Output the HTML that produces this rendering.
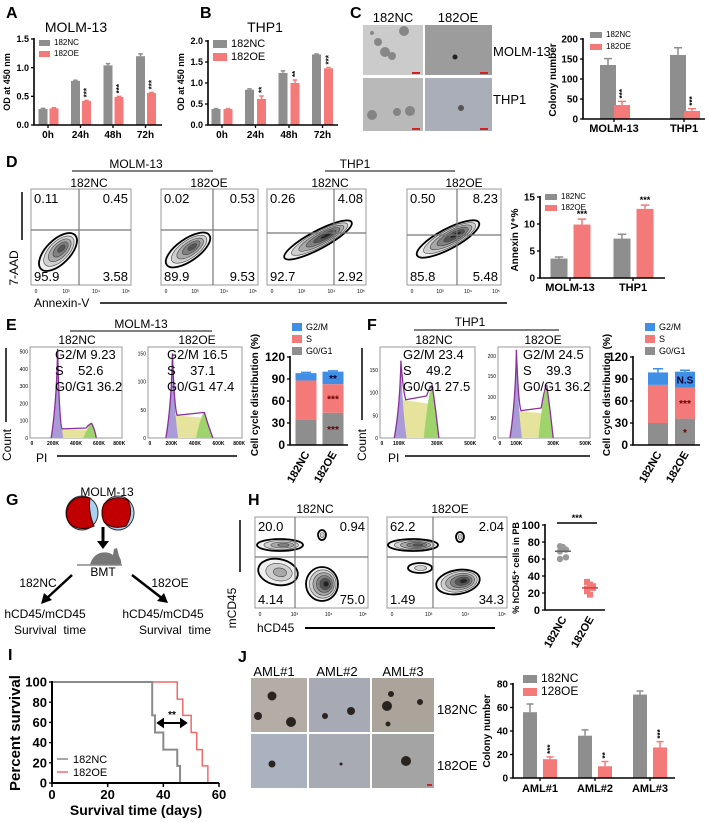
<!DOCTYPE html>
<html><head><meta charset="utf-8">
<style>
html,body{margin:0;padding:0;background:#fff;}
svg{display:block;font-family:"Liberation Sans",Arial,sans-serif;}
.b{font-weight:bold;}
.pre{white-space:pre;}
</style></head>
<body>
<svg id="fig" width="709" height="822" viewBox="0 0 709 822" xmlns="http://www.w3.org/2000/svg">
<g font-weight="bold" font-size="16">
<text x="6" y="18">A</text>
<text x="200" y="18">B</text>
<text x="350" y="18">C</text>
<text x="6" y="167">D</text>
<text x="6" y="330">E</text>
<text x="367" y="330">F</text>
<text x="6" y="505">G</text>
<text x="248" y="505">H</text>
<text x="8" y="660">I</text>
<text x="238" y="662">J</text>
</g>
<text x="76" y="32" font-size="14" text-anchor="middle">MOLM-13</text>
<text x="265" y="32" font-size="14" text-anchor="middle">THP1</text>
<text x="10" y="82" font-size="9" font-weight="bold" text-anchor="middle" transform="rotate(-90 10 82)">OD at 450 nm</text>
<text x="184" y="82" font-size="9" font-weight="bold" text-anchor="middle" transform="rotate(-90 184 82)">OD at 450 nm</text>

<g>
<text x="393" y="22" font-size="13" text-anchor="middle">182NC</text>
<text x="458" y="22" font-size="13" text-anchor="middle">182OE</text>
<rect x="363" y="25" width="60" height="50" fill="#cbcbcb"/>
<rect x="425" y="25" width="67" height="50" fill="#9c9c9c"/>
<rect x="363" y="78" width="60" height="53" fill="#b9b9b9"/>
<rect x="425" y="78" width="67" height="53" fill="#a9aeb8"/>
<g fill="#777" opacity="0.8">
<circle cx="378" cy="42" r="4"/><circle cx="385" cy="52" r="5"/><circle cx="392" cy="56" r="4"/><circle cx="404" cy="31" r="5"/><circle cx="372" cy="33" r="2"/>
<circle cx="372" cy="115" r="5"/><circle cx="397" cy="112" r="4"/><circle cx="410" cy="111" r="5"/>
</g>
<circle cx="455" cy="57" r="2.5" fill="#222"/><circle cx="461" cy="108" r="3" fill="#555"/>
<g fill="#d42020"><rect x="412" y="72" width="8" height="2"/><rect x="480" y="72" width="8" height="2"/><rect x="412" y="128" width="8" height="2"/><rect x="480" y="128" width="8" height="2"/></g>
<text x="493" y="56" font-size="13">MOLM-13</text>
<text x="493" y="104" font-size="13">THP1</text>
<text x="556" y="80" font-size="10" font-weight="bold" text-anchor="middle" transform="rotate(-90 556 80)">Colony number</text>
</g>

<g font-size="12" text-anchor="middle">
<text x="136" y="168">MOLM-13</text><line x1="72" y1="171" x2="213" y2="171" stroke="#000"/>
<text x="355" y="168">THP1</text><line x1="325" y1="171" x2="455" y2="171" stroke="#000"/>
<text x="89" y="187">182NC</text><text x="209" y="187">182OE</text><text x="330" y="187">182NC</text><text x="464" y="187">182OE</text>
</g>
<line x1="22" y1="192" x2="22" y2="240" stroke="#000" stroke-width="1.5"/>
<text x="18" y="268" font-size="12" text-anchor="middle" transform="rotate(-90 18 268)">7-AAD</text>
<text x="34" y="307" font-size="12">Annexin-V</text>
<line x1="100" y1="303" x2="507" y2="303" stroke="#000" stroke-width="1.5"/>
<text x="518" y="240" font-size="10" font-weight="bold" text-anchor="middle" transform="rotate(-90 518 240)">Annexin V⁺%</text>

<g font-size="12" text-anchor="middle">
<text x="141" y="328">MOLM-13</text><line x1="70" y1="331" x2="212" y2="331" stroke="#000"/>
<text x="77" y="344">182NC</text><text x="197" y="344">182OE</text>
<text x="470" y="326">THP1</text><line x1="414" y1="330" x2="559" y2="330" stroke="#000"/>
<text x="434" y="344">182NC</text><text x="543" y="344">182OE</text>
</g>
<line x1="6" y1="348" x2="6" y2="422" stroke="#000" stroke-width="1.5"/>
<text x="11" y="445" font-size="12" text-anchor="middle" transform="rotate(-90 11 445)">Count</text>
<text x="36" y="462" font-size="12">PI</text>
<line x1="57" y1="456" x2="237" y2="456" stroke="#000" stroke-width="1.5"/>
<line x1="362" y1="348" x2="362" y2="420" stroke="#000" stroke-width="1.5"/>
<text x="366" y="445" font-size="12" text-anchor="middle" transform="rotate(-90 366 445)">Count</text>
<text x="388" y="462" font-size="12">PI</text>
<line x1="405" y1="456" x2="590" y2="456" stroke="#000" stroke-width="1.5"/>
<text x="258" y="395" font-size="10" font-weight="bold" text-anchor="middle" transform="rotate(-90 258 395)">Cell cycle distribution (%)</text>
<text x="610" y="395" font-size="10" font-weight="bold" text-anchor="middle" transform="rotate(-90 610 395)">Cell cycle distribution (%)</text>

<g>
<text x="107" y="496" font-size="12" text-anchor="middle">MOLM-13</text>
<ellipse cx="82" cy="513" rx="16" ry="17" fill="#a9d2f0" stroke="#333"/>
<path d="M68 506 Q75 494 90 498 Q88 512 94 526 Q80 532 70 524 Q64 515 68 506Z" fill="#c00000" stroke="#300"/>
<ellipse cx="118" cy="513" rx="16" ry="17" fill="#a9d2f0" stroke="#333"/>
<path d="M104 504 Q114 494 128 500 Q134 514 126 526 Q112 530 104 522 Q100 512 104 504Z" fill="#c00000" stroke="#300"/>
<line x1="103" y1="527" x2="103" y2="543" stroke="#000" stroke-width="3"/>
<path d="M97 541 L103 549 L109 541Z" fill="#000"/>
<path d="M77 565 L90 565 Q92 556 100 553 Q108 551 113 555 L114 549 L117 548 L119 556 Q122 561 121 565 L77 565Z" fill="#777"/>
<line x1="77" y1="565" x2="122" y2="565" stroke="#888" stroke-width="1.5"/>
<text x="103" y="576" font-size="12" text-anchor="middle">BMT</text>
<line x1="72" y1="575" x2="46" y2="599" stroke="#000" stroke-width="2.5"/>
<path d="M41 604 L44 593 L52 600Z" fill="#000"/>
<line x1="132" y1="575" x2="163" y2="599" stroke="#000" stroke-width="2.5"/>
<path d="M168 603 L157 601 L164 593Z" fill="#000"/>
<text x="38" y="587" font-size="12" text-anchor="middle">182NC</text>
<text x="170" y="587" font-size="12" text-anchor="middle">182OE</text>
<text x="45" y="618" font-size="12" text-anchor="middle">hCD45/mCD45</text>
<text x="163" y="618" font-size="12" text-anchor="middle">hCD45/mCD45</text>
<text x="50" y="634" font-size="12" text-anchor="middle" class="pre">Survival  time</text>
<text x="175" y="634" font-size="12" text-anchor="middle" class="pre">Survival  time</text>
</g>

<text x="315" y="513" font-size="12" text-anchor="middle">182NC</text>
<text x="450" y="513" font-size="12" text-anchor="middle">182OE</text>
<line x1="240" y1="520" x2="240" y2="572" stroke="#000" stroke-width="1.5"/>
<text x="236" y="608" font-size="12" text-anchor="middle" transform="rotate(-90 236 608)">mCD45</text>
<text x="257" y="632" font-size="12">hCD45</text>
<line x1="305" y1="628" x2="495" y2="628" stroke="#000" stroke-width="2"/>

<text x="20" y="733" font-size="15" font-weight="bold" text-anchor="middle" transform="rotate(-90 20 733)">Percent survival</text>
<text x="136" y="815" font-size="14" font-weight="bold" text-anchor="middle">Survival time (days)</text>

<g>
<text x="274" y="676" font-size="13" text-anchor="middle">AML#1</text>
<text x="337" y="676" font-size="13" text-anchor="middle">AML#2</text>
<text x="403" y="676" font-size="13" text-anchor="middle">AML#3</text>
<rect x="251" y="678" width="56" height="54" fill="#b3ada6"/>
<rect x="309" y="678" width="61" height="54" fill="#a7aab5"/>
<rect x="372" y="678" width="62" height="54" fill="#aaa49b"/>
<rect x="251" y="734" width="56" height="54" fill="#aab2c0"/>
<rect x="309" y="734" width="61" height="54" fill="#a8abb3"/>
<rect x="372" y="734" width="62" height="54" fill="#a4a4a4"/>
<g fill="#2a2420">
<circle cx="272" cy="696" r="4.5"/><circle cx="258" cy="716" r="4"/><circle cx="291" cy="722" r="5"/>
<circle cx="325" cy="716" r="3"/><circle cx="351" cy="711" r="4"/>
<circle cx="387" cy="706" r="5"/><circle cx="391" cy="694" r="3"/><circle cx="420" cy="702" r="3"/><circle cx="388" cy="724" r="2.5"/>
<circle cx="272" cy="764" r="3.5"/><circle cx="341" cy="764" r="1.5"/><circle cx="406" cy="761" r="5"/>
</g>
<rect x="427" y="784" width="5" height="2" fill="#d42020"/>
<text x="437" y="714" font-size="13">182NC</text>
<text x="437" y="770" font-size="13">182OE</text>
<text x="490" y="731" font-size="10" font-weight="bold" text-anchor="middle" transform="rotate(-90 490 731)">Colony number</text>
</g>

<g id="dyn"></g>
<text x="519" y="568" font-size="9" font-weight="bold" text-anchor="middle" transform="rotate(-90 519 568)">% hCD45⁺ cells in PB</text>
</svg>
<script>
const timeCats = ['0h','24h','48h','72h'];
const ncA = [0.28,0.77,1.04,1.20];
const ncAErr = [0.01,0.01,0.03,0.04];
const oeA = [0.29,0.42,0.49,0.56];
const oeAErr = [0.01,0.01,0.01,0.01];
const sigA = ['','***','***','***'];
const ticksA = [0,0.5,1.0,1.5];
const tickLabA = ['0.0','0.5','1.0','1.5'];

const ncB = [0.38,0.84,1.24,1.68];
const ncBErr = [0.01,0.02,0.05,0.01];
const oeB = [0.38,0.62,1.00,1.35];
const oeBErr = [0.01,0.07,0.07,0.02];
const sigB = ['','**','**','***'];
const ticksB = [0,0.5,1.0,1.5,2.0];
const tickLabB = ['0.0','0.5','1.0','1.5','2.0'];

const lineCats = ['MOLM-13','THP1'];
const ncC = [135,160];
const ncCErr = [16,18];
const oeC = [35,20];
const oeCErr = [9,6];
const sigC = ['***','***'];
const ticksC = [0,50,100,150,200];

const ncD = [3.6,7.3];
const ncDErr = [0.3,0.8];
const oeD = [9.9,12.8];
const oeDErr = [1.0,0.7];
const sigD = ['***','***'];
const ticksD = [0,5,10,15];

const groupCats = ['182NC','182OE'];
const g0E = [35,44];
const sE = [53,39];
const g2E = [10,17];
const errE = [1,1];
const sigE = [['',''],['***','***','**']];
const g0F = [30,36];
const sF = [52,42];
const g2F = [17,22];
const errF = [5,2];
const sigF = [['',''],['*','***','N.S']];
const ticksEF = [0,30,60,90,120];

const dQuads = [['0.11','0.45','95.9','3.58'],['0.02','0.53','89.9','9.53'],['0.26','4.08','92.7','2.92'],['0.50','8.23','85.8','5.48']];
const hQuads = [['20.0','0.94','4.14','75.0'],['62.2','2.04','1.49','34.3']];

const ncH = [75,73,71,69,74,62,60];
const oeH = [33,30,26,22,18,28,25];
const ticksH = [0,20,40,60,80,100];

const survDaysNC = [0,36,37,40,45,46];
const survNC = [100,67,50,33,17,0];
const survDaysOE = [0,45,47,50,52,54,56];
const survOE = [100,83,67,50,33,17,0];
const ticksIx = [0,20,40,60];
const ticksIy = [0,20,40,60,80,100];

const amlCats = ['AML#1','AML#2','AML#3'];
const ncJ = [56,36,71];
const ncJErr = [7,5,3];
const oeJ = [16,10,26];
const oeJErr = [2,4,5];
const sigJ = ['***','**','***'];
const ticksJ = [0,20,40,60,80];

const NS='http://www.w3.org/2000/svg';
const root=document.getElementById('dyn');
const GREY='#8e8e8e', RED='#f47a7a', BLUE='#3f8fe6';
function mk(tag, attrs, parent){const e=document.createElementNS(NS,tag);for(const k in attrs)e.setAttribute(k,attrs[k]);(parent||root).appendChild(e);return e;}
function tx(x,y,s,attrs,parent){const t=mk('text',Object.assign({x:x,y:y},attrs||{}),parent);t.textContent=s;return t;}

function yAxis(g,x,yS,ticks,labels,fs){
  ticks.forEach((t,i)=>{
    const l=mk('line',{x1:x-3,x2:x,y1:yS(t),y2:yS(t),stroke:'#000','stroke-width':1.3},g);
    
    
    const tl=tx(x-5,yS(t)+fs*0.35,labels[i],{'font-size':fs,'font-weight':'bold','text-anchor':'end'},g);
    
    
  });
}

function legend(g,x,y,dy,items,fs,sw,sh){
  items.forEach((it,i)=>{
    const r=mk('rect',{x:x,y:y+i*dy-sh+1,width:sw,height:sh,fill:it[1]},g);
    
    
    const t=tx(x+sw+4,y+i*dy,it[0],{'font-size':fs},g);
    
    
  });
}

function barChart(c){
  const g=mk('g',{});
  
  
  const yS=v=>c.yBot-(v/c.max)*(c.yBot-c.yTop);
  c.series.forEach((s,j)=>{
    s.vals.forEach((v,i)=>{
      const cx=c.cx0+i*c.step+c.offs[j];
      const r=mk('rect',{x:cx-c.barW/2,y:yS(v),width:c.barW,height:c.yBot-yS(v),fill:s.color},g);
      
      
      const top=yS(v+s.errs[i]);
      const e=mk('path',{d:`M${cx} ${yS(v)}V${top}M${cx-c.barW/4} ${top}H${cx+c.barW/4}`,stroke:s.color,'stroke-width':1.5,fill:'none'},g);
      
      
      if(s.sig && s.sig[i]){
        let st;
        if(c.starRot){ st=tx(cx+3,top-3,s.sig[i],{'font-size':c.starFs,'font-weight':'bold',transform:`rotate(-90 ${cx+3} ${top-3})`},g); }
        else { st=tx(cx,top-2,s.sig[i],{'font-size':c.starFs,'font-weight':'bold','text-anchor':'middle'},g); }
        
        
      }
    });
  });
  const ax=mk('path',{d:`M${c.x0} ${c.yTop-1}V${c.yBot}H${c.x1}`,stroke:'#000','stroke-width':1.6,fill:'none'},g);
  
  
  yAxis(g,c.x0,yS,c.ticks,c.tickLabels,c.tickFs);
  c.cats.forEach((cat,i)=>{
    const cx=c.cx0+i*c.step;
    const tk=mk('line',{x1:cx,x2:cx,y1:c.yBot,y2:c.yBot+3,stroke:'#000','stroke-width':1.3},g);
    
    
    const t=tx(cx,c.yBot+c.labDy,cat,{'font-size':c.labFs,'font-weight':'bold','text-anchor':'middle'},g);
    
    
  });
  legend(g,c.legX,c.legY,c.legDy,[['182NC',GREY],[c.oeName||'182OE',RED]],c.legFs,c.legW,c.legH);
  return g;
}

barChart({name:'panel-a-chart',x0:34,x1:162,yTop:39,yBot:125,max:1.5,ticks:ticksA,tickLabels:tickLabA,tickFs:9,
  cats:timeCats,cx0:48,step:32.5,offs:[-5,6],barW:9,labDy:13,labFs:10,starRot:true,starFs:8,
  series:[{key:'182nc',vals:ncA,errs:ncAErr,color:GREY},{key:'182oe',vals:oeA,errs:oeAErr,color:RED,sig:sigA}],
  legX:39,legY:45,legDy:11,legFs:8,legW:11,legH:6});
barChart({name:'panel-b-chart',x0:208,x1:338,yTop:41,yBot:125,max:2.0,ticks:ticksB,tickLabels:tickLabB,tickFs:9,
  cats:timeCats,cx0:222,step:33.5,offs:[-6,6],barW:9,labDy:13,labFs:10,starRot:true,starFs:8,
  series:[{key:'182nc',vals:ncB,errs:ncBErr,color:GREY},{key:'182oe',vals:oeB,errs:oeBErr,color:RED,sig:sigB}],
  legX:213,legY:47,legDy:13,legFs:11,legW:14,legH:8});
barChart({name:'panel-c-chart',x0:583,x1:705,yTop:39,yBot:119,max:200,ticks:ticksC,tickLabels:ticksC.map(String),tickFs:10,
  cats:lineCats,cx0:614,step:70,offs:[-6,8],barW:16,labDy:13,labFs:11,starRot:true,starFs:8,
  series:[{key:'182nc',vals:ncC,errs:ncCErr,color:GREY},{key:'182oe',vals:oeC,errs:oeCErr,color:RED,sig:sigC}],
  legX:590,legY:37,legDy:12,legFs:8,legW:12,legH:6});
barChart({name:'panel-d-chart',x0:540,x1:665,yTop:197,yBot:278,max:15,ticks:ticksD,tickLabels:ticksD.map(String),tickFs:10,
  cats:lineCats,cx0:570,step:63,offs:[-11,12],barW:17,labDy:13,labFs:11,starRot:false,starFs:9,
  series:[{key:'182nc',vals:ncD,errs:ncDErr,color:GREY},{key:'182oe',vals:oeD,errs:oeDErr,color:RED,sig:sigD}],
  legX:545,legY:199,legDy:11,legFs:8,legW:12,legH:6});
barChart({name:'panel-j-chart',x0:513,x1:675,yTop:684,yBot:778,max:80,ticks:ticksJ,tickLabels:ticksJ.map(String),tickFs:10,
  cats:amlCats,cx0:540,step:55,offs:[-10,10],barW:14,labDy:14,labFs:11,starRot:true,starFs:8,oeName:'128OE',
  series:[{key:'182nc',vals:ncJ,errs:ncJErr,color:GREY},{key:'182oe',vals:oeJ,errs:oeJErr,color:RED,sig:sigJ}],
  legX:523,legY:682,legDy:13,legFs:12,legW:14,legH:8});

function stacked(c){
  const g=mk('g',{});
  
  
  const yS=v=>c.yBot-(v/c.max)*(c.yBot-c.yTop);
  c.cats.forEach((cat,i)=>{
    let base=0;
    c.layers.forEach((L,k)=>{
      const v=L.vals[i];
      const r=mk('rect',{x:c.cx[i]-c.barW/2,y:yS(base+v),width:c.barW,height:yS(base)-yS(base+v),fill:L.color},g);
      
      
      const lab=c.sig[i][k];
      if(lab){
        const t=tx(c.cx[i],yS(base+v/2)+4,lab,{'font-size':10,'font-weight':'bold','text-anchor':'middle',fill:k==2?'#003':'#600'},g);
        
        
      }
      base+=v;
    });
    const top=yS(base+c.errs[i]);
    const e=mk('path',{d:`M${c.cx[i]} ${yS(base)}V${top}M${c.cx[i]-5} ${top}H${c.cx[i]+5}`,stroke:BLUE,'stroke-width':1.5,fill:'none'},g);
    
    
    const t=tx(c.cx[i]+4,c.yBot+9,cat,{'font-size':11,'font-weight':'bold','text-anchor':'end',transform:`rotate(-60 ${c.cx[i]+4} ${c.yBot+9})`},g);
    
    
  });
  const ax=mk('path',{d:`M${c.x0} ${c.yTop-1}V${c.yBot}H${c.x1}`,stroke:'#000','stroke-width':1.6,fill:'none'},g);
  
  
  yAxis(g,c.x0,yS,c.ticks,c.ticks.map(String),12);
  legend(g,c.legX,c.legY,12,[['G2/M',BLUE],['S',RED],['G0/G1',GREY]],9,10,8);
}
stacked({name:'panel-e-chart',x0:290,x1:348,yTop:357,yBot:445,max:120,ticks:ticksEF,cats:groupCats,cx:[306,333],barW:21,
  layers:[{key:'g0g1',vals:g0E,color:GREY},{key:'s',vals:sE,color:RED},{key:'g2m',vals:g2E,color:BLUE}],errs:errE,sig:sigE,legX:292,legY:330});
stacked({name:'panel-f-chart',x0:633,x1:700,yTop:357,yBot:445,max:120,ticks:ticksEF,cats:groupCats,cx:[658,685],barW:20,
  layers:[{key:'g0g1',vals:g0F,color:GREY},{key:'s',vals:sF,color:RED},{key:'g2m',vals:g2F,color:BLUE}],errs:errF,sig:sigF,legX:645,legY:330});

function blob(g,cx,cy,rx,ry,rot,n){
  const cols=['#f0f0f0','#cfcfcf','#a8a8a8','#808080','#555','#222'];
  for(let k=0;k<n;k++){
    const f=1-k/(n);
    const e=mk('ellipse',{cx:cx+(k*rx*0.05),cy:cy,rx:rx*f,ry:ry*f,fill:cols[k%cols.length],stroke:k==0?'#000':'#444','stroke-width':k==0?1.8:0.6,transform:`rotate(${rot} ${cx} ${cy})`},g);
    
    
  }
}
function flowBox(name,x0,y0,x1,y1,vx,hy,q,blobs){
  const g=mk('g',{});
  
  
  const r=mk('rect',{x:x0,y:y0,width:x1-x0,height:y1-y0,fill:'#fff',stroke:'#999','stroke-width':1},g);
  
  
  blobs.forEach(b=>blob(g,b[0],b[1],b[2],b[3],b[4],b[5]));
  const l=mk('path',{d:`M${vx} ${y0}V${y1}M${x0} ${hy}H${x1}`,stroke:'#777','stroke-width':1.2},g);
  
  
  const fs=13;
  [[x0+3,y0+14,'start',q[0]],[x1-3,y0+14,'end',q[1]],[x0+3,y1-4,'start',q[2]],[x1-3,y1-4,'end',q[3]]].forEach(a=>{
    const t=tx(a[0],a[1],a[3],{'font-size':fs,'text-anchor':a[2]},g);
    
    
  });
  ['0','10³','10⁴','10⁵'].forEach((s,i)=>{
    const t=tx(x0+5+i*(x1-x0-10)/3,y1+8,s,{'font-size':5,'text-anchor':'middle'},g);
    
    
  });
}
flowBox('d-flow-molm-nc',31,189,131,285,79,230,dQuads[0],[[58,252,24,12,-45,5]]);
flowBox('d-flow-molm-oe',161,189,258,285,213,230,dQuads[1],[[188,250,26,11,-35,5]]);
flowBox('d-flow-thp1-nc',267,189,366,285,334,233,dQuads[2],[[318,240,38,9,-28,6]]);
flowBox('d-flow-thp1-oe',407,189,501,285,457,235,dQuads[3],[[448,239,35,10,-28,6]]);
flowBox('h-flow-nc',255,517,368,608,295,557,hQuads[0],[[280,545,23,6,0,4],[278,572,20,13,10,3],[322,584,16,17,0,6],[322,535,4,5,0,2]]);
flowBox('h-flow-oe',387,517,507,608,433,557,hQuads[1],[[413,545,25,6,0,5],[458,582,22,12,-10,6],[460,537,4,5,0,2],[420,568,12,5,0,2]]);

function hist(name,x0,y0,x1,y1,g1x,g1h,sh,g2x,g2h,end,ylabs,xlabs){
  const g=mk('g',{});
  
  
  const w=x1-x0,h=y1-y0,X=f=>x0+f*w,Y=f=>y1-f*h;
  const fr=mk('rect',{x:x0,y:y0,width:w,height:h,fill:'#fff',stroke:'#999'},g);
  
  
  const s=mk('path',{d:`M${X(g1x)} ${Y(0)}L${X(g1x+0.02)} ${Y(sh)}L${X(g2x-0.04)} ${Y(sh*0.9)}L${X(g2x)} ${Y(0)}Z`,fill:'#e6e49c'},g);
  
  
  const p1=mk('path',{d:`M${X(g1x-0.07)} ${Y(0)}Q${X(g1x-0.01)} ${Y(g1h*0.4)} ${X(g1x)} ${Y(g1h)}Q${X(g1x+0.02)} ${Y(g1h*0.3)} ${X(g1x+0.06)} ${Y(0)}Z`,fill:'#a99ad8'},g);
  
  
  const p2=mk('path',{d:`M${X(g2x-0.09)} ${Y(0)}Q${X(g2x-0.03)} ${Y(g2h)} ${X(g2x)} ${Y(g2h)}Q${X(g2x+0.04)} ${Y(g2h*0.5)} ${X(end)} ${Y(0)}Z`,fill:'#9fd36c'},g);
  
  
  const o=mk('path',{d:`M${X(g1x-0.07)} ${Y(0)}Q${X(g1x-0.01)} ${Y(g1h*0.4)} ${X(g1x)} ${Y(g1h)}Q${X(g1x+0.02)} ${Y(sh*1.3)} ${X(g1x+0.05)} ${Y(sh)}L${X(g2x-0.06)} ${Y(sh*1.1)}Q${X(g2x-0.02)} ${Y(g2h)} ${X(g2x)} ${Y(g2h)}Q${X(g2x+0.04)} ${Y(g2h*0.5)} ${X(end)} ${Y(0)}`,fill:'none',stroke:'#8a2f9a','stroke-width':1.3},g);
  
  
  ylabs.forEach((l,i)=>{const t=tx(x0-2,Y(l[1])+2,l[0],{'font-size':5,'text-anchor':'end'},g);
    
    });
  xlabs.forEach((l,i)=>{const t=tx(X(l[1]),y1+7,l[0],{'font-size':5,'font-weight':'bold','text-anchor':'middle'},g);
    
    });
}
const xl8=[['0',0.02],['200K',0.25],['400K',0.5],['600K',0.75],['800K',0.97]];
const xl5=[['0',0.02],['100K',0.2],['300K',0.6],['500K',0.95]];
hist('e-hist-nc',30,347,122,438,0.3,0.98,0.1,0.67,0.16,0.72,[['500',0.95],['400',0.76],['300',0.57],['200',0.38],['100',0.19],['0',0]],xl8);
hist('e-hist-oe',148,347,242,438,0.26,0.93,0.25,0.6,0.28,0.69,[['150',0.93],['100',0.62],['50',0.31],['0',0]],xl8);
hist('f-hist-nc',380,347,475,438,0.22,0.85,0.42,0.55,0.58,0.62,[['150',0.75],['100',0.5],['50',0.25],['0',0]],xl5);
hist('f-hist-oe',498,347,590,438,0.2,0.97,0.3,0.53,0.58,0.6,[['200',0.9],['150',0.68],['100',0.45],['50',0.22],['0',0]],xl5);
[[55,'G2/M 9.23','S    52.6','G0/G1 36.2'],[167,'G2/M 16.5','S    37.1','G0/G1 47.4'],[403,'G2/M 23.4','S    49.2','G0/G1 27.5'],[523,'G2/M 24.5','S    39.3','G0/G1 36.2']].forEach(a=>{
  [1,2,3].forEach(k=>{
    const t=tx(a[0],343+k*16,a[k],{'font-size':13,'class':'pre'});
    
    
  });
});

(function(){
  const g=mk('g',{});
  
  
  const yTop=525,yBot=610,x0=545,x1=605;
  const yS=v=>yBot-v/100*(yBot-yTop);
  const cx=[563,590];
  [ncH,oeH].forEach((arr,j)=>{
    arr.forEach((v,i)=>{
      const dx=((i%3)-1)*3;
      let p;
      if(j==0){p=mk('circle',{cx:cx[j]+dx,cy:yS(v),r:3.2,fill:'#999'},g);}
      else{p=mk('rect',{x:cx[j]+dx-3,y:yS(v)-3,width:6,height:6,fill:RED},g);}
      
      
    });
    const m=arr.reduce((a,b)=>a+b,0)/arr.length;
    const ml=mk('line',{x1:cx[j]-8,x2:cx[j]+8,y1:yS(m),y2:yS(m),stroke:j==0?'#666':'#c44','stroke-width':1.5},g);
    
    
  });
  const ax=mk('path',{d:`M${x0} ${yTop-1}V${yBot}H${x1}`,stroke:'#000','stroke-width':1.6,fill:'none'},g);
  
  
  yAxis(g,x0,yS,ticksH,ticksH.map(String),11);
  const sl=mk('line',{x1:557,x2:597,y1:523,y2:523,stroke:'#000','stroke-width':1.5},g);
  
  
  const st=tx(577,521,'***',{'font-size':9,'font-weight':'bold','text-anchor':'middle'},g);
  
  
  groupCats.forEach((c,i)=>{
    const t=tx(cx[i]+4,yBot+9,c,{'font-size':11,'font-weight':'bold','text-anchor':'end',transform:`rotate(-60 ${cx[i]+4} ${yBot+9})`},g);
    
    
  });
})();

(function(){
  const g=mk('g',{});
  
  
  const x0=52,x1=219,yTop=682,yBot=783;
  const xS=d=>x0+d/60*(x1-x0), yS=v=>yBot-v/100*(yBot-yTop);
  function step(days,vals,color,w,key){
    let d=`M${xS(days[0])} ${yS(vals[0])}`;
    for(let i=1;i<days.length;i++){d+=`H${xS(days[i])}V${yS(vals[i])}`;}
    const p=mk('path',{d:d,stroke:color,'stroke-width':w,fill:'none'},g);
    
    
  }
  step(survDaysOE,survOE,'#f06a6a',1.5,'182oe');
  step(survDaysNC,survNC,'#8a8a8a',2,'182nc');
  const ax=mk('path',{d:`M${x0} ${yTop-1}V${yBot}H${x1}`,stroke:'#000','stroke-width':2,fill:'none'},g);
  
  
  yAxis(g,x0,yS,ticksIy,ticksIy.map(String),13);
  ticksIx.forEach(t=>{
    const l=mk('line',{x1:xS(t),x2:xS(t),y1:yBot,y2:yBot+4,stroke:'#000','stroke-width':1.5},g);
    
    
    const tl=tx(xS(t),yBot+16,String(t),{'font-size':13,'font-weight':'bold','text-anchor':'middle'},g);
    
    
  });
  const ar=mk('path',{d:'M158 723H186M158 723l5-3.5v7zM186 723l-5-3.5v7z',stroke:'#000','stroke-width':2,fill:'#000'},g);
  
  
  const st=tx(172,718,'**',{'font-size':10,'font-weight':'bold','text-anchor':'middle'},g);
  
  
  [['182NC','#8a8a8a',763],['182OE','#f06a6a',776]].forEach(a=>{
    const l=mk('line',{x1:57,x2:68,y1:a[2]-4,y2:a[2]-4,stroke:a[1],'stroke-width':1.5},g);
    
    
    const t=tx(73,a[2],a[0],{'font-size':11},g);
    
    
  });
})();
</script>
</body></html>
